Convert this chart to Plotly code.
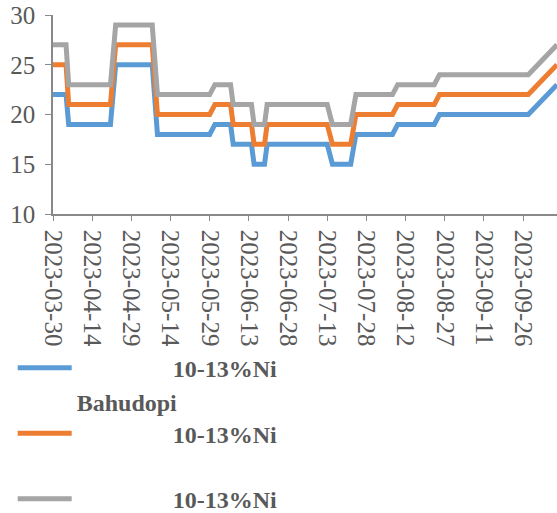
import plotly.graph_objects as go

# Breakpoint dates (each flat segment start/end) and values
dates = ["2023-03-30", "2023-04-04", "2023-04-05", "2023-04-21", "2023-04-23",
         "2023-05-07", "2023-05-09", "2023-05-29", "2023-05-31", "2023-06-06",
         "2023-06-07", "2023-06-14", "2023-06-15", "2023-06-19", "2023-06-20",
         "2023-07-13", "2023-07-15", "2023-07-22", "2023-07-24", "2023-08-07",
         "2023-08-09", "2023-08-23", "2023-08-25", "2023-09-28", "2023-10-09"]

blue = [22, 22, 19, 19, 25, 25, 18, 18, 19, 19, 17, 17, 15, 15, 17,
        17, 15, 15, 18, 18, 19, 19, 20, 20, 23]
orange = [25, 25, 21, 21, 27, 27, 20, 20, 21, 21, 19, 19, 17, 17, 19,
          19, 17, 17, 20, 20, 21, 21, 22, 22, 25]
gray = [27, 27, 23, 23, 29, 29, 22, 22, 23, 23, 21, 21, 19, 19, 21,
        21, 19, 19, 22, 22, 23, 23, 24, 24, 27]

NB = "\u00a0"
names = [
    "<b>" + NB * 16 + "10-13%Ni</b>",
    "<b>Bahudopi<br>" + NB * 16 + "10-13%Ni</b>",
    "<b>" + NB + "<br>" + NB * 16 + "10-13%Ni</b>",
]
colors = ["#5B9BD5", "#ED7D31", "#A5A5A5"]
series = [blue, orange, gray]

fig = go.Figure()
for name, col, vals in zip(names, colors, series):
    fig.add_trace(go.Scatter(x=dates, y=vals, mode="lines", name=name,
                             line=dict(color=col, width=5)))

axis_col = "#898989"
txt_col = "#595959"
font_fam = "Liberation Serif"

fig.update_layout(
    width=557, height=513,
    margin=dict(l=53, r=0, t=15, b=299, autoexpand=False),
    paper_bgcolor="white", plot_bgcolor="white",
    font=dict(family=font_fam, color=txt_col, size=25),
    showlegend=True,
    legend=dict(x=-0.08, y=-0.662, xanchor="left", yanchor="top",
                font=dict(family=font_fam, size=24, color=txt_col),
                valign="bottom", itemwidth=54,
                bgcolor="rgba(0,0,0,0)"),
    xaxis=dict(type="date", range=["2023-03-30", "2023-10-09"],
               tick0="2023-03-30", dtick=15 * 86400000, tickformat="%Y-%m-%d",
               tickangle=90, ticks="outside", ticklen=5, tickcolor=axis_col,
               ticklabelstandoff=4,
               showline=True, linecolor=axis_col, linewidth=1.5,
               showgrid=False, zeroline=False, automargin=False,
               tickfont=dict(family=font_fam, size=25, color=txt_col)),
    yaxis=dict(range=[10, 30], dtick=5, ticks="outside", ticklen=6,
               tickcolor=axis_col, showline=True, linecolor=axis_col,
               ticklabelstandoff=5,
               linewidth=1.5, showgrid=False, zeroline=False, automargin=False,
               tickfont=dict(family=font_fam, size=25, color=txt_col)),
)

fig.write_html("out.html", config={"displayModeBar": False},
               post_script="document.body.style.margin='0';document.body.style.padding='0';")
